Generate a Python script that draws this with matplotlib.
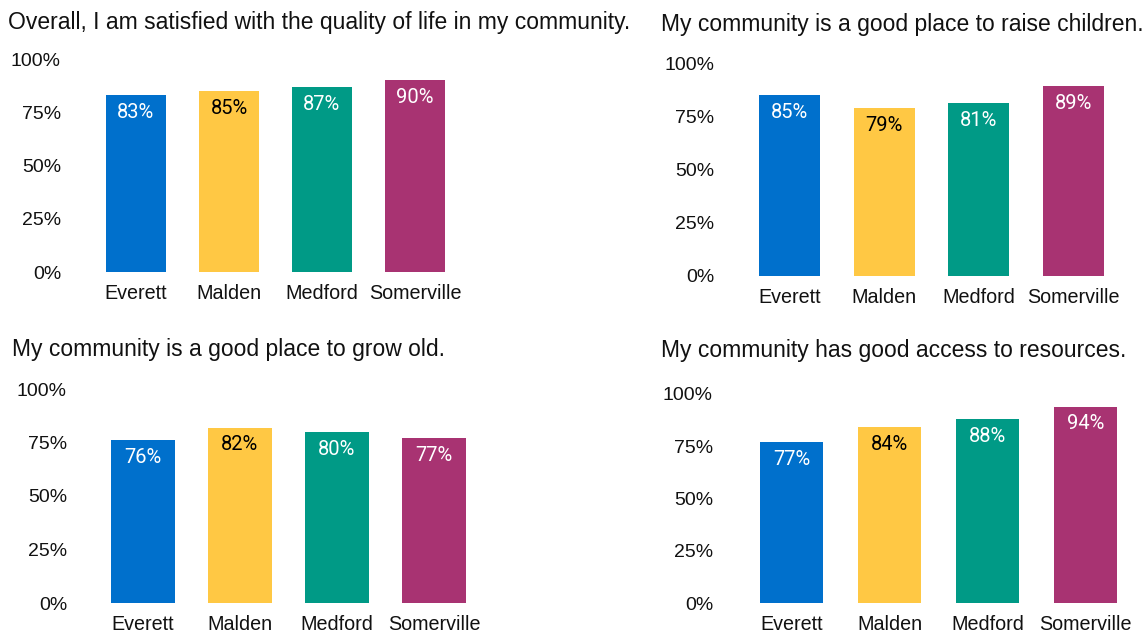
import matplotlib.pyplot as plt

plt.rcParams['font.family'] = ['Liberation Sans', 'DejaVu Sans']

towns = ['Everett', 'Malden', 'Medford', 'Somerville']
colors = ['#0070cc', '#ffc844', '#009a86', '#a83372']
label_colors = ['white', 'black', 'white', 'white']

titles = [
    'Overall, I am satisfied with the quality of life in my community.',
    'My community is a good place to raise children.',
    'My community is a good place to grow old.',
    'My community has good access to resources.',
]
quality_of_life = [83, 85, 87, 90]
raise_children = [85, 79, 81, 89]
grow_old = [76, 82, 80, 77]
access_resources = [77, 84, 88, 94]
all_values = [quality_of_life, raise_children, grow_old, access_resources]
yticks = [0, 25, 50, 75, 100]

W, H = 1147, 632
fig = plt.figure(figsize=(W / 100, H / 100), dpi=100)

# pixel layout per panel: axes left, width, y of 0%, y of 100%, title x, title y, ytick pad
layout = [
    (89.5, 372, 272, 59, 8, 23, 28.5),
    (742.5, 378, 276, 63, 661, 24, 28),
    (94.5, 388, 603, 389, 12, 350, 27.5),
    (742.5, 392, 603, 394, 661, 351, 29.5),
]

for vals, title, (left, width, y0, y100, tx, ty, pad) in zip(all_values, titles, layout):
    ax = fig.add_axes([left / W, 1 - y0 / H, width / W, (y0 - y100) / H])
    x = range(len(towns))
    ax.bar(x, vals, width=0.65, color=colors)
    ax.set_xlim(-0.5, 3.5)
    ax.set_ylim(0, 100)
    ax.set_yticks(yticks)
    ax.set_yticklabels([f'{t}%' for t in yticks])
    ax.set_xticks(list(x))
    ax.set_xticklabels(towns)
    ax.tick_params(axis='both', length=0, colors='#111111')
    ax.tick_params(axis='y', labelsize=14, pad=pad * 0.72)
    ax.tick_params(axis='x', labelsize=14.2, pad=8.5)
    for s in ax.spines.values():
        s.set_visible(False)
    for i, v in enumerate(vals):
        ax.annotate(f'{v}%', (i, v), xytext=(0, -12.5), textcoords='offset points',
                    ha='center', va='center', fontsize=14.5, color=label_colors[i],
                    family=['Roboto', 'DejaVu Sans'])
    fig.text(tx / W, 1 - ty / H, title, ha='left', va='center', fontsize=16.5, color='#111111')

fig.savefig('out.png', dpi=100, facecolor='white')
